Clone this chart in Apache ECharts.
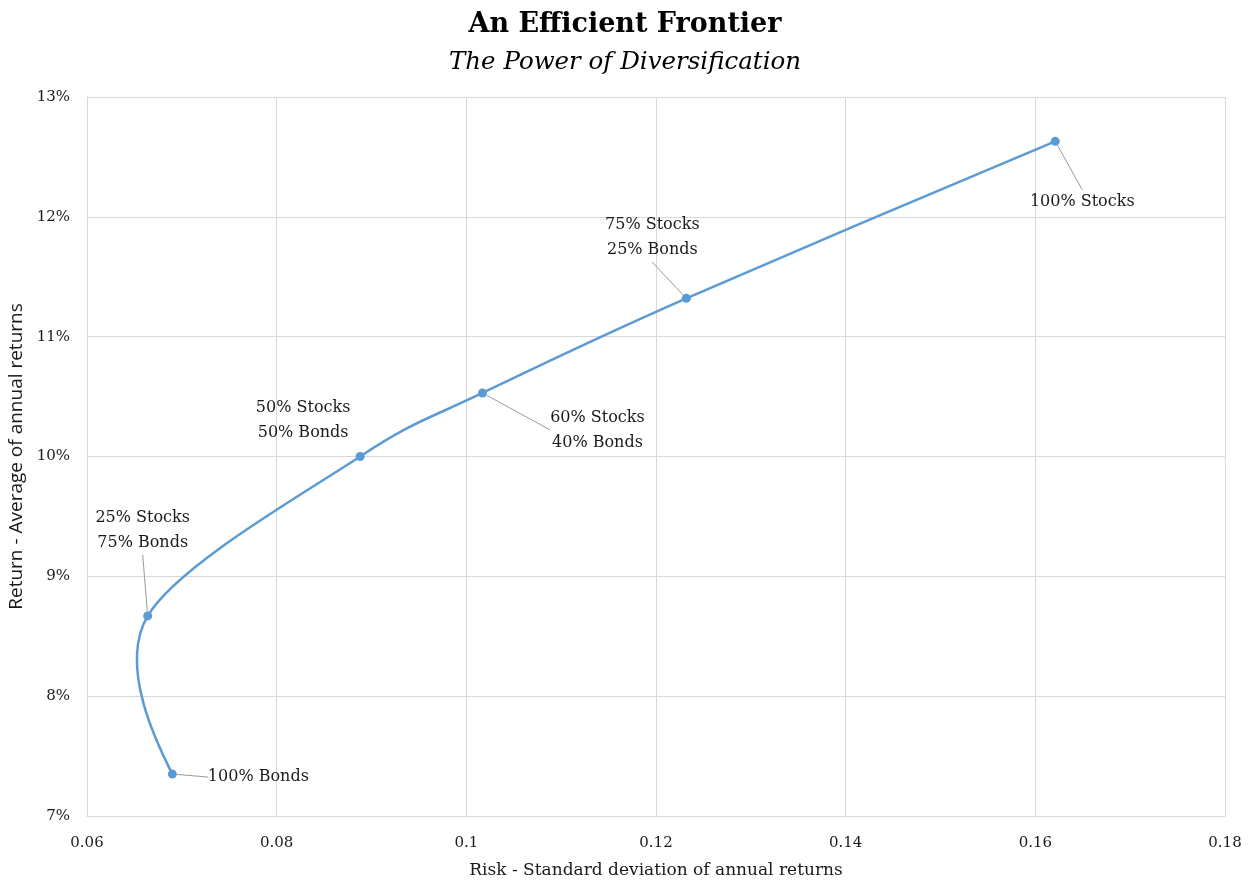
<!DOCTYPE html>
<html>
<head>
<meta charset="utf-8">
<script src="https://cdn.jsdelivr.net/npm/echarts@6/dist/echarts.min.js"></script>
<style>
  html, body { margin: 0; padding: 0; background: #ffffff; }
  #chart { width: 1250px; height: 882px; }
</style>
</head>
<body>
<div id="chart"></div>
<script>
// Portfolio mixes along the frontier
const portfolios = ['100% Bonds', '25% Stocks\n75% Bonds', '50% Stocks\n50% Bonds',
                    '60% Stocks\n40% Bonds', '75% Stocks\n25% Bonds', '100% Stocks'];
// Risk: standard deviation of annual returns
const risk = [0.0690, 0.0664, 0.0888, 0.1017, 0.1232, 0.1621];
// Return: average of annual returns (%)
const avgReturn = [7.35, 8.67, 10.0, 10.53, 11.32, 12.63];

const xTicks = { min: 0.06, max: 0.18, interval: 0.02 };
const yTicks = { min: 7, max: 13, interval: 1 };

// Label placement (pixel offsets of label centre from its point) and leader lines
const labelOffsets = [[86, 3], [-5, -86], [-57, -36], [115, 37], [-34, -61], [27, 61]];
const showLeader = [true, true, false, true, true, true];

const serif = '"DejaVu Serif", "Liberation Serif", serif';
const sans = '"Open Sans", "Noto Sans", sans-serif';
const textColor = '#1a1a1a';
const lineBlue = '#5b9bd5';
const TENSION = 0.16;
const END_PULL = 0.25;

const chart = echarts.init(document.getElementById('chart'), null, { renderer: 'canvas' });

const points = risk.map((r, i) => [r, avgReturn[i]]);

const seriesData = points.map((p, i) => ({
  value: p,
  name: portfolios[i],
  labelLine: { show: showLeader[i] }
}));

// Cardinal spline through the points, computed in pixel space.
// End segments aim their free control point at the neighbouring one.
function renderCurve(params, api) {
  if (params.dataIndex !== 0) return null;
  const px = points.map(p => api.coord(p));
  const n = px.length;
  let d = 'M' + px[0][0] + ' ' + px[0][1];
  for (let i = 0; i < n - 1; i++) {
    const p0 = px[i - 1], p1 = px[i], p2 = px[i + 1], p3 = px[i + 2];
    let c1 = p0 ? [p1[0] + (p2[0] - p0[0]) * TENSION, p1[1] + (p2[1] - p0[1]) * TENSION] : null;
    let c2 = p3 ? [p2[0] - (p3[0] - p1[0]) * TENSION, p2[1] - (p3[1] - p1[1]) * TENSION] : null;
    if (!c1 && c2) c1 = [p1[0] + (c2[0] - p1[0]) * END_PULL, p1[1] + (c2[1] - p1[1]) * END_PULL];
    if (!c2 && c1) c2 = [p2[0] + (c1[0] - p2[0]) * END_PULL, p2[1] + (c1[1] - p2[1]) * END_PULL];
    if (!c1) c1 = p1;
    if (!c2) c2 = p2;
    d += ' C' + c1[0] + ' ' + c1[1] + ' ' + c2[0] + ' ' + c2[1] + ' ' + p2[0] + ' ' + p2[1];
  }
  return {
    type: 'path',
    shape: { pathData: d },
    style: { stroke: lineBlue, lineWidth: 2.5, fill: 'none' }
  };
}

chart.setOption({
  backgroundColor: '#ffffff',
  animation: false,
  title: {
    text: 'An Efficient Frontier',
    subtext: 'The Power of Diversification',
    left: 'center',
    top: 6,
    itemGap: 12,
    textStyle: { fontFamily: serif, fontSize: 27, fontWeight: 'bold', color: '#000000' },
    subtextStyle: { fontFamily: serif, fontSize: 24.5, fontStyle: 'italic', color: '#000000' }
  },
  grid: { left: 87, right: 25, top: 97, bottom: 66, outerBoundsMode: 'none', containLabel: false },
  xAxis: {
    type: 'value',
    min: xTicks.min, max: xTicks.max, interval: xTicks.interval,
    name: 'Risk - Standard deviation of annual returns',
    nameLocation: 'middle',
    nameGap: 46,
    nameTextStyle: { fontFamily: serif, fontSize: 17, color: textColor },
    axisLine: { show: true, lineStyle: { color: '#d9d9d9', width: 1 } },
    axisTick: { show: false },
    axisLabel: {
      fontFamily: serif, fontSize: 15, color: textColor, margin: 20,
      formatter: v => String(+v.toFixed(2))
    },
    splitLine: { show: true, lineStyle: { color: '#d9d9d9', width: 1 } }
  },
  yAxis: {
    type: 'value',
    min: yTicks.min, max: yTicks.max, interval: yTicks.interval,
    name: 'Return - Average of annual returns',
    nameLocation: 'middle',
    nameGap: 56,
    nameRotate: 90,
    nameTextStyle: { fontFamily: sans, fontSize: 19, color: textColor },
    axisLine: { show: true, lineStyle: { color: '#d9d9d9', width: 1 } },
    axisTick: { show: false },
    axisLabel: {
      fontFamily: serif, fontSize: 15, color: textColor, margin: 17,
      formatter: '{value}%'
    },
    splitLine: { show: true, lineStyle: { color: '#d9d9d9', width: 1 } }
  },
  series: [{
    type: 'custom',
    data: points,
    renderItem: renderCurve,
    z: 2,
    silent: true
  }, {
    type: 'line',
    data: seriesData,
    symbol: 'circle',
    symbolSize: 9,
    showAllSymbol: true,
    z: 3,
    itemStyle: { color: lineBlue },
    lineStyle: { width: 0, opacity: 0 },
    label: {
      show: true,
      position: 'inside',
      formatter: p => p.name,
      fontFamily: serif,
      fontSize: 16,
      lineHeight: 25,
      color: textColor,
      align: 'center',
      verticalAlign: 'middle'
    },
    labelLine: {
      show: true,
      lineStyle: { color: '#9a9a9a', width: 1 }
    },
    labelLayout: params => ({
      dx: labelOffsets[params.dataIndex][0],
      dy: labelOffsets[params.dataIndex][1]
    }),
    emphasis: { disabled: true }
  }]
});
</script>
</body>
</html>
